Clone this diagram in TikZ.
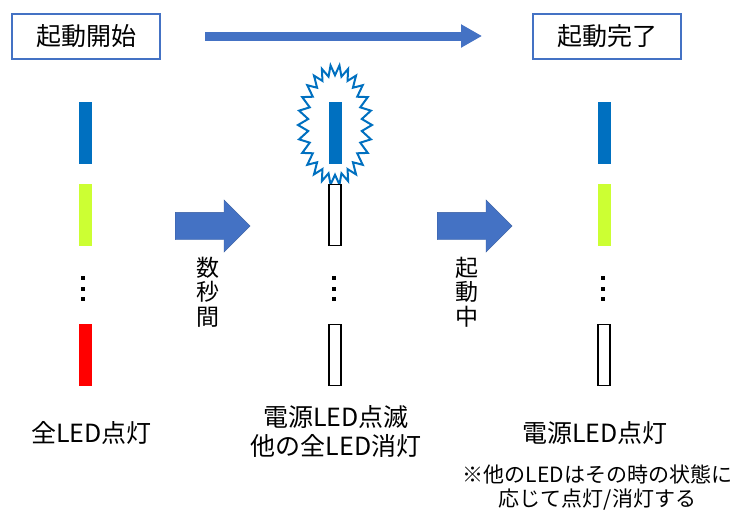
\documentclass[tikz,border=0pt]{standalone}
\usepackage{fontspec}
\setmainfont{Noto Sans CJK JP}
\usetikzlibrary{arrows.meta, positioning, shapes.arrows}
\definecolor{ledblue}{HTML}{0070C0}
\definecolor{ledgreen}{HTML}{CCFF33}
\definecolor{ledred}{HTML}{FF0000}
\definecolor{arrowblue}{HTML}{4472C4}

\begin{document}
\begin{tikzpicture}[x=1pt, y=-1pt]
    \tikzstyle{stage}=[draw=arrowblue, line width=2pt, minimum width=148pt, minimum height=45pt, inner sep=0pt, font=\fontsize{25}{28}\selectfont]
    \tikzstyle{led}=[minimum width=13pt, minimum height=62pt, inner sep=0pt]
    \tikzstyle{led off}=[led, draw=black, line width=1.6pt, fill=white, minimum width=12pt, minimum height=61pt]
    \tikzstyle{step arrow}=[single arrow, anchor=tail, fill=arrowblue, draw=arrowblue!80!black, line width=0.4pt, minimum height=75pt, single arrow head extend=12.5pt, single arrow head indent=0pt, inner xsep=0pt, inner ysep=13.5pt]
    \tikzstyle{caption}=[align=center, font=\fontsize{25}{29.5}\selectfont]
    \tikzstyle{vlabel}=[align=center, font=\fontsize{23}{24.5}\selectfont]

    \useasboundingbox (0,0) rectangle (735,509);

    % top row
    \node[stage] (start) at (86,36) {起動開始};
    \node[stage] (done) at (607,36) {起動完了};
    \coordinate (flowA) at (205,36);
    \coordinate (flowB) at (482,36);
    \draw[arrowblue, line width=9pt, -{Triangle[length=21pt, width=22pt]}] (flowA) -- (flowB);

    % all on
    \node[led, fill=ledblue] (A-1) at (85,133) {};
    \node[led, fill=ledgreen] (A-2) at (85,215) {};
    \node[led, fill=ledred] (A-3) at (85,355) {};
    \node[caption] (A-text) at (91.5,433) {全LED点灯};

    % power blinking
    \draw[ledblue, line width=2pt, line join=miter] (372,125)
        \foreach \i in {1,...,51} { -- ({335+37*(1-0.27*mod(\i,2))*cos(\i*6.923)}, {125+60*(1-0.17*mod(\i,2))*sin(\i*6.923)}) } -- cycle;
    \node[led, fill=ledblue] (B-1) at (335,133) {};
    \node[led off] (B-2) at (335,215) {};
    \node[led off] (B-3) at (335,355) {};
    \node[caption] (B-text) at (336,431.5) {電源LED点滅\\他の全LED消灯};

    % power on
    \node[led, fill=ledblue] (C-1) at (604,133) {};
    \node[led, fill=ledgreen] (C-2) at (604,215) {};
    \node[led off] (C-3) at (604,355) {};
    \node[caption] (C-text) at (595,433) {電源LED点灯};
    \node[align=center, font=\fontsize{21}{24}\selectfont] (C-note) at (597.5,487) {※他のLEDはその時の状態に\\応じて点灯/消灯する};

    % vertical dots
    \foreach \x in {83,334,603}
        \foreach \y in {278,288.5,299}
            \fill (\x-2,\y-2) rectangle ++(4,4);

    % transitions
    \node[step arrow] (T-1) at (175,226) {};
    \node[vlabel] (T-1-text) at (208,292) {数\\秒\\間};
    \node[step arrow] (T-2) at (437,226) {};
    \node[vlabel] (T-2-text) at (467,292) {起\\動\\中};
\end{tikzpicture}
\end{document}
